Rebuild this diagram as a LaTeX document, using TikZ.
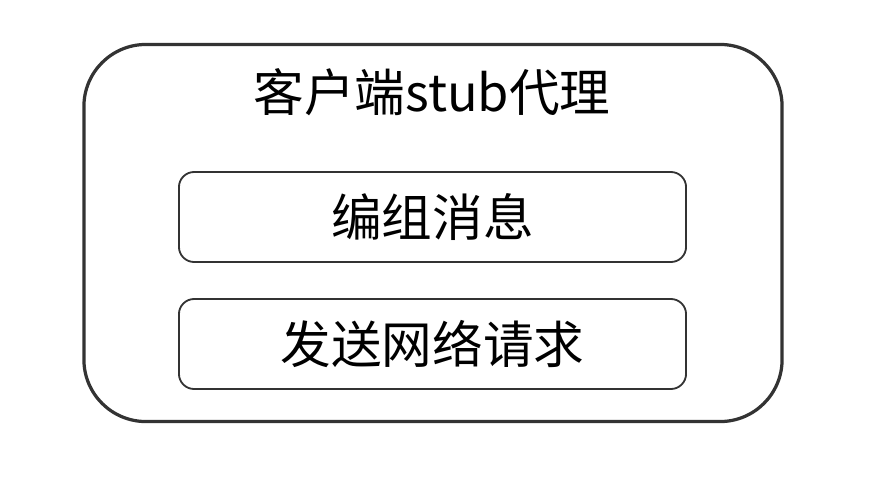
\documentclass[tikz,border=0pt]{standalone}
\usepackage{fontspec}
\newfontfamily\cjk{Noto Sans CJK SC}
\definecolor{boxline}{HTML}{333333}
\begin{document}
\begin{tikzpicture}[x=0.025cm, y=-0.025cm,
    outerbox/.style={draw=boxline, line width=2.3pt, rounded corners=1.55cm,
        minimum width=17.45cm, minimum height=9.425cm},
    innerbox/.style={draw=boxline, line width=1.3pt, rounded corners=0.38cm,
        minimum width=12.675cm, minimum height=2.25cm, font=\cjk\fontsize{36}{42}\selectfont},
    title/.style={font=\cjk\fontsize{36}{42}\selectfont}]
\useasboundingbox (0, 0) rectangle (872, 494);
\node[outerbox] (stub) at (433, 233) {};
\node[title] (label) at (432, 92) {客户端stub代理};
\node[innerbox] (marshal) at (432.5, 217) {编组消息};
\node[innerbox] (send) at (432.5, 344) {发送网络请求};
\end{tikzpicture}
\end{document}
